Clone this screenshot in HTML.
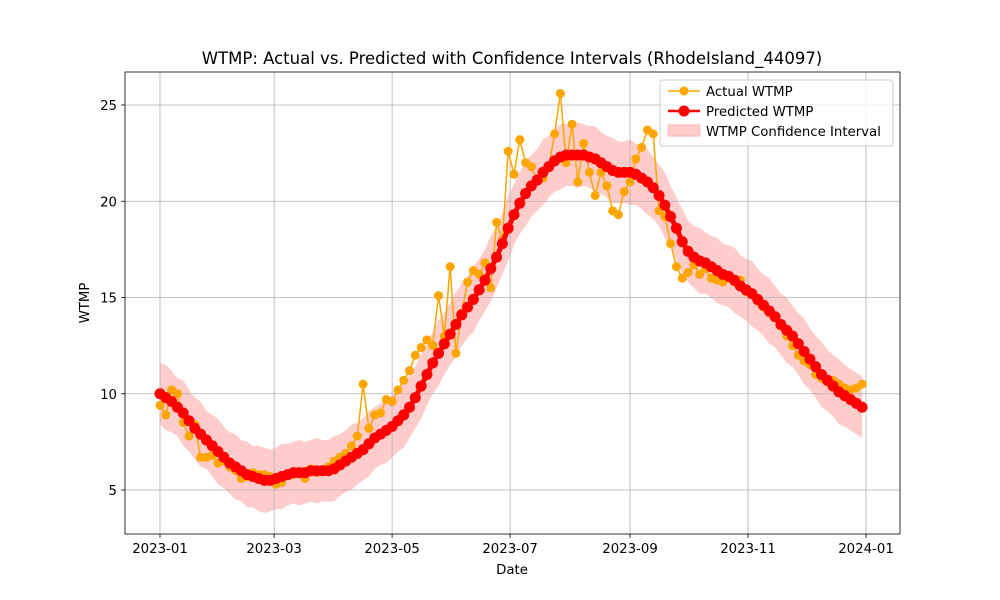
<!DOCTYPE html>
<html><head><meta charset="utf-8"><style>
body{margin:0;background:#fff;}
svg{display:block;font-family:"DejaVu Sans","Liberation Sans",sans-serif;}
</style></head><body>
<svg id="chart" width="1000" height="600" viewBox="0 0 1000 600">
<rect width="1000" height="600" fill="#fff"/>
<text x="512" y="64" font-size="16.5" text-anchor="middle">WTMP: Actual vs. Predicted with Confidence Intervals (RhodeIsland_44097)</text>
<g id="band"></g><g id="grid"></g><g id="series"></g><g id="axes"></g>
<text x="512" y="574" font-size="13.3" text-anchor="middle">Date</text>
<text x="89" y="303" font-size="13.3" text-anchor="middle" transform="rotate(-90 89 303)">WTMP</text>
<g>
<rect x="660" y="80" width="233" height="66" fill="#fff" fill-opacity="0.8" stroke="#ccc" rx="3"/>
<g><line x1="668" y1="91" x2="700" y2="91" stroke="#FFA500" stroke-width="1.5"/><circle cx="684" cy="91" r="4.5" fill="#FFA500"/><text x="706" y="96" font-size="13.3">Actual WTMP</text></g>
<g><line x1="668" y1="111" x2="700" y2="111" stroke="#FF0000" stroke-width="2.5"/><circle cx="684" cy="111" r="5.5" fill="#FF0000"/><text x="706" y="116" font-size="13.3">Predicted WTMP</text></g>
<g><rect x="668" y="125" width="32" height="11" fill="#ffcccc" stroke="#ffb3b3"/><text x="706" y="136" font-size="13.3">WTMP Confidence Interval</text></g>
</g>
</svg>
<script>
const dayStep = 3;
const predicted = [10.0,9.8,9.6,9.3,9.0,8.6,8.2,7.9,7.6,7.3,7.0,6.7,6.4,6.2,6.0,5.8,5.7,5.6,5.5,5.5,5.6,5.7,5.8,5.9,5.9,5.9,6.0,6.0,6.0,6.0,6.1,6.3,6.5,6.7,6.9,7.1,7.4,7.7,7.9,8.1,8.3,8.6,8.9,9.3,9.8,10.4,11.0,11.6,12.1,12.6,13.1,13.6,14.1,14.5,14.9,15.4,15.9,16.5,17.1,17.8,18.6,19.3,19.9,20.4,20.8,21.1,21.5,21.8,22.1,22.3,22.4,22.4,22.4,22.4,22.3,22.2,22.0,21.8,21.6,21.5,21.5,21.5,21.4,21.2,21.0,20.7,20.3,19.8,19.2,18.6,17.9,17.4,17.1,16.9,16.8,16.6,16.4,16.2,16.1,15.9,15.6,15.4,15.2,14.9,14.6,14.3,14.0,13.6,13.3,13.0,12.6,12.2,11.8,11.4,11.0,10.7,10.4,10.1,9.9,9.7,9.5,9.3];
const actual = [9.4,8.9,10.2,10.0,8.5,7.8,8.4,6.7,6.7,6.8,6.4,6.5,6.2,6.0,5.6,5.7,5.9,5.8,5.8,5.7,5.3,5.4,5.8,5.8,5.9,5.6,6.1,5.9,6.0,6.2,6.5,6.7,6.9,7.3,7.8,10.5,8.2,8.9,9.0,9.7,9.6,10.2,10.7,11.2,12.0,12.4,12.8,12.5,15.1,13.0,16.6,12.1,14.2,15.8,16.4,16.2,16.8,15.5,18.9,18.0,22.6,21.4,23.2,22.0,21.8,21.1,21.2,21.8,23.5,25.6,22.0,24.0,21.0,23.0,21.5,20.3,21.5,20.8,19.5,19.3,20.5,21.0,22.2,22.8,23.7,23.5,19.5,19.2,17.8,16.6,16.0,16.3,16.7,16.2,16.5,16.0,15.9,15.8,16.0,15.8,15.9,15.3,15.2,14.8,14.5,14.2,14.0,13.5,13.0,12.5,12.0,11.7,11.5,11.0,10.8,10.6,10.7,10.5,10.3,10.2,10.3,10.5];
const ciHalf = [1.6,1.7,1.6,1.5,1.7,1.6,1.6,1.7,1.5,1.6,1.7,1.6,1.6,1.7,1.6,1.7,1.6,1.7,1.7,1.6,1.6,1.7,1.6,1.6,1.7,1.6,1.6,1.7,1.6,1.6,1.7,1.6,1.6,1.7,1.6,1.6,1.7,1.6,1.6,1.7,1.6,1.6,1.7,1.6,1.6,1.7,1.6,1.6,1.7,1.6,1.6,1.7,1.6,1.6,1.7,1.6,1.6,1.7,1.6,1.6,1.7,1.6,1.6,1.7,1.6,1.6,1.7,1.6,1.6,1.7,1.6,1.6,1.7,1.6,1.6,1.7,1.6,1.6,1.7,1.6,1.6,1.7,1.6,1.6,1.7,1.6,1.6,1.7,1.6,1.6,1.7,1.6,1.6,1.7,1.6,1.6,1.7,1.6,1.6,1.7,1.6,1.6,1.7,1.6,1.6,1.7,1.6,1.6,1.7,1.6,1.6,1.7,1.6,1.6,1.7,1.6,1.6,1.7,1.6,1.6,1.6,1.6];
const xTickLabels = ["2023-01","2023-03","2023-05","2023-07","2023-09","2023-11","2024-01"];
const xTickDays = [0,59,120,181,243,304,365];
const yTicks = [5,10,15,20,25];

const NS="http://www.w3.org/2000/svg";
const X0=125,X1=900,Y0=72,Y1=534;
function xs(d){return 160+d*(706/365);}
function ys(v){return 490-(v-5)*19.25;}
function mk(tag,attrs,parent){const e=document.createElementNS(NS,tag);for(const k in attrs)e.setAttribute(k,attrs[k]);parent.appendChild(e);return e;}
const grid=document.getElementById('grid'),axes=document.getElementById('axes'),band=document.getElementById('band'),series=document.getElementById('series');
xTickDays.forEach((d,i)=>{const x=xs(d);
 const g=mk('line',{x1:x,x2:x,y1:Y0,y2:Y1,stroke:'#b0b0b0','stroke-width':0.8},grid);
 
 
 mk('line',{x1:x,x2:x,y1:Y1,y2:Y1+4,stroke:'#000','stroke-width':0.8},axes);
 const t=mk('text',{x:x,y:Y1+19,'font-size':13.3,'text-anchor':'middle'},axes);t.textContent=xTickLabels[i];
 
 
});
yTicks.forEach(v=>{const y=ys(v);
 const g=mk('line',{x1:X0,x2:X1,y1:y,y2:y,stroke:'#b0b0b0','stroke-width':0.8},grid);
 
 
 mk('line',{x1:X0-4,x2:X0,y1:y,y2:y,stroke:'#000','stroke-width':0.8},axes);
 const t=mk('text',{x:X0-8,y:y+5,'font-size':13.3,'text-anchor':'end'},axes);t.textContent=v;
 
 
});
const fr=mk('rect',{x:X0,y:Y0,width:X1-X0,height:Y1-Y0,fill:'none',stroke:'#000','stroke-width':0.8},axes);


const n=Math.min(predicted.length,ciHalf.length);
let up=[],lo=[];
for(let i=0;i<n;i++){up.push(xs(i*dayStep)+','+ys(predicted[i]+ciHalf[i]));lo.unshift(xs(i*dayStep)+','+ys(predicted[i]-ciHalf[i]));}
const bp=mk('polygon',{points:up.concat(lo).join(' '),fill:'#ffcccc',stroke:'none'},band);


function drawSeries(vals,color,lw,r,name){
 const pts=vals.map((v,i)=>xs(i*dayStep)+','+ys(v)).join(' ');
 const l=mk('polyline',{points:pts,fill:'none',stroke:color,'stroke-width':lw},series);
 
 
 vals.forEach((v,i)=>{const c=mk('circle',{cx:xs(i*dayStep),cy:ys(v),r:r,fill:color},series);
  
  });
}
drawSeries(actual,'#FFA500',1.5,4.5,'actual-wtmp');
drawSeries(predicted,'#FF0000',5,5.5,'predicted-wtmp');
</script>
</body></html>
